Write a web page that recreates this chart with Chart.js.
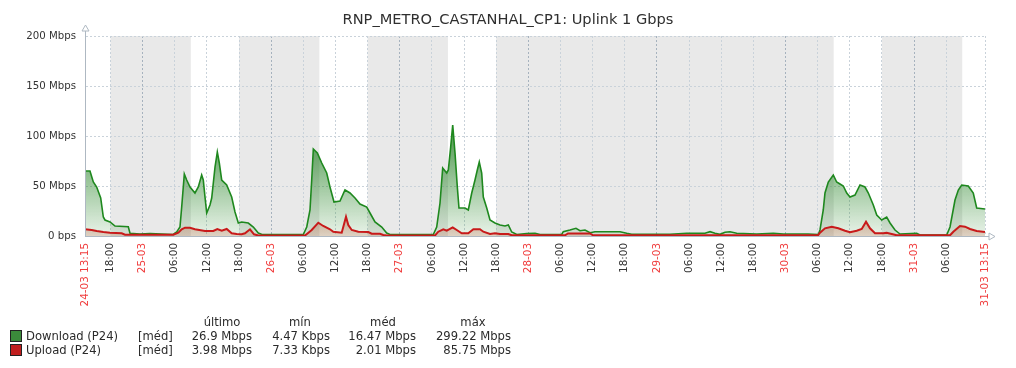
<!DOCTYPE html>
<html>
<head>
<meta charset="utf-8">
<script src="https://cdn.jsdelivr.net/npm/chart.js@4"></script>
<style>
  body { margin: 0; background: #fff; font-family: "DejaVu Sans", sans-serif; color: #2b2b2b; }
  #wrap { position: relative; width: 1016px; height: 368px; }
  #title { position: absolute; left: 0; width: 1016px; top: 10px; text-align: center; font-size: 14.6px; color: #2f2f2f; }
  .lg { position: absolute; font-size: 11.6px; white-space: nowrap; line-height: 14px; }
  .sq { position: absolute; width: 10px; height: 10px; border: 1px solid #222; }
  .r { text-align: right; }
  .c { text-align: center; }
</style>
</head>
<body>
<div id="wrap">
  <canvas id="chart" width="1016" height="368"></canvas>
  <div id="title">RNP_METRO_CASTANHAL_CP1: Uplink 1 Gbps</div>
  <div id="legend"></div>
</div>
<script>
// hours since 24-03 13:15, values in Mbps
const downloadHours = [0, 0.93, 1.55, 2.18, 2.93, 3.42, 3.73, 4.67, 5.6, 8.08, 8.4, 10.27, 12.13, 16.48, 17.12, 17.73,
  18.05, 18.54, 18.98, 19.6, 20.53, 21.15, 21.78, 22.08, 22.4, 22.72, 23.33, 23.65, 24.27, 24.7, 25.07, 25.52, 26.45,
  27.38, 28.0, 28.62, 29.25, 30.48, 31.42, 32.35, 33.04, 38.27, 40.75, 41.39, 42.0, 42.32, 42.62, 43.37, 44.19, 45.12,
  45.73, 46.48, 47.6, 48.53, 49.47, 50.4, 51.33, 52.59, 53.2, 54.13, 55.39, 56.32, 56.93, 65.02, 65.65, 66.27, 66.77,
  67.52, 67.82, 68.26, 68.64, 69.07, 69.5, 69.81, 70.93, 71.55, 72.19, 72.8, 73.23, 73.6, 74.05, 74.35, 74.99, 75.6,
  76.53, 77.47, 78.4, 79.02, 79.65, 80.59, 82.45, 84.0, 84.93, 88.98, 89.28, 90.53, 91.65, 92.4, 93.33, 94.27, 95.2,
  97.39, 99.87, 101.12, 102.05, 109.2, 112.32, 115.73, 116.67, 117.6, 118.53, 119.47, 120.4, 121.65, 125.39, 128.49,
  130.35, 134.96, 136.89, 137.2, 137.81, 138.13, 138.75, 139.68, 140.31, 140.93, 141.55, 142.19, 142.8, 143.73, 144.67,
  145.6, 146.22, 147.15, 147.79, 148.72, 149.65, 150.27, 151.2, 152.13, 155.25, 155.87, 160.85, 161.47, 162.4, 163.02,
  163.65, 164.88, 165.81, 166.45, 168];
const downloadValues = [65, 65, 54, 49, 38, 19, 16, 14, 10, 9.3, 2.7, 2, 2.5, 1.5, 4, 9,
  29, 62, 56, 49, 43, 49, 61, 56, 39, 23, 31, 38, 69, 84, 73, 56, 51,
  39, 24, 13, 14, 13, 9, 3, 1.5, 1.5, 1.5, 9, 26, 56, 87, 83, 73, 63,
  49, 34, 35, 46, 43, 38, 32, 29, 23, 14, 9, 3, 1.5, 1.5, 9, 33, 68,
  63, 66, 89, 111, 83, 49, 28, 28, 26, 43, 56, 66, 74, 63, 39, 28, 16,
  13, 11, 10, 11, 4, 1.5, 2.5, 2.7, 1.5, 1.5, 4.3, 6, 7.7, 5.3, 6, 3.3, 4.3,
  4.3, 4.3, 2.7, 1.7, 1.7, 2.7, 2.7, 4.3, 2.7, 1.7, 3.7, 4.3, 2.7, 2, 2.7,
  2, 2, 1.5, 6, 26, 43, 54, 61, 54, 52, 50, 43, 39, 41, 51,
  49, 43, 31, 21, 16, 19, 13, 6, 2, 2.7, 1, 1, 9, 36, 46,
  51, 50, 43, 28, 27];

const uploadHours = [0, 1.25, 2.18, 3.42, 4.67, 6.85, 7.47, 16.48, 17.42, 18.05, 18.67, 19.6, 20.53, 22.4, 23.95, 24.7,
  25.52, 26.45, 27.38, 28.32, 29.25, 29.87, 30.8, 31.55, 32.35, 41.07, 42.32, 43.55, 44.48, 45.73, 46.35, 47.92, 48.72,
  49.15, 49.79, 51.02, 52.88, 53.52, 55.07, 55.68, 56.32, 65.33, 65.95, 66.88, 67.52, 68.64, 69.39, 70.32, 71.55, 72.49,
  73.73, 74.35, 75.6, 76.53, 77.47, 79.02, 79.65, 89.6, 90.16, 94.27, 94.83, 136.83, 137.2, 138.13, 139.39, 140.62,
  141.87, 142.8, 144.05, 144.99, 145.79, 146.53, 147.47, 149.02, 149.65, 150.59, 151.52, 161.47, 162.09, 163.33, 164.27,
  165.2, 166.45, 168];
const uploadValues = [6.7, 6, 5, 4, 3.3, 2.7, 1.3, 1.3, 3.3, 6.7, 8.3, 8.3, 6.7, 5, 5, 7,
  5.3, 7, 2.7, 2, 1.7, 2.7, 6.7, 1.7, 0.5, 0.5, 6, 13.3, 10, 6.7, 4.3, 3.3, 19.3,
  11, 6, 4.3, 4, 2.3, 2.3, 1, 0.5, 0.5, 4.3, 6.7, 5.3, 8.7, 6, 2.7, 2.7, 6.7,
  6.7, 4.3, 2, 2.7, 2, 2, 0.7, 0.7, 2.5, 2.5, 0.7, 0.7, 3.3, 7.7, 9.3, 7.7,
  5.3, 3.7, 5.3, 7, 14.3, 7.7, 2.7, 2.7, 3.3, 2, 0.7, 0.7, 4.3, 10, 9.3,
  7, 5, 4];

// non-working periods (hours since start)
const offStart = [4.75, 28.75, 52.75, 76.75, 148.75];
const offEnd = [19.75, 43.75, 67.75, 139.75, 163.75];

const xTickHours = [0, 4.75, 10.75, 16.75, 22.75, 28.75, 34.75, 40.75, 46.75, 52.75, 58.75, 64.75, 70.75, 76.75,
  82.75, 88.75, 94.75, 100.75, 106.75, 112.75, 118.75, 124.75, 130.75, 136.75, 142.75, 148.75, 154.75, 160.75, 168];
const xTickLabels = ['24-03 13:15', '18:00', '25-03', '06:00', '12:00', '18:00', '26-03', '06:00', '12:00', '18:00',
  '27-03', '06:00', '12:00', '18:00', '28-03', '06:00', '12:00', '18:00', '29-03', '06:00', '12:00', '18:00', '30-03',
  '06:00', '12:00', '18:00', '31-03', '06:00', '31-03 13:15'];
const yTicks = [0, 50, 100, 150, 200];
const yTickLabels = ['0 bps', '50 Mbps', '100 Mbps', '150 Mbps', '200 Mbps'];

const legendNames = ['Download (P24)', 'Upload (P24)'];
const legendColors = ['#3b8b3b', '#c01e1e'];
const legendHeads = ['último', 'mín', 'méd', 'máx'];
const legendLast = ['26.9 Mbps', '3.98 Mbps'];
const legendMin = ['4.47 Kbps', '7.33 Kbps'];
const legendAvg = ['16.47 Mbps', '2.01 Mbps'];
const legendMax = ['299.22 Mbps', '85.75 Mbps'];

const FONT = '"DejaVu Sans", sans-serif';
const isDate = s => s.indexOf('-') > 0;

const bandsPlugin = {
    id: 'bands',
    beforeDraw(chart) {
        const { ctx, chartArea, scales } = chart;
        ctx.save();
        ctx.fillStyle = '#e9e9e9';
        offStart.forEach((s, i) => {
            const x1 = scales.x.getPixelForValue(s);
            const x2 = scales.x.getPixelForValue(offEnd[i]);
            ctx.fillRect(x1, chartArea.top, x2 - x1, chartArea.bottom - chartArea.top);
        });
        ctx.restore();
    },
    afterDraw(chart) {
        // axis arrows like the original
        const { ctx, chartArea } = chart;
        const l = Math.round(chartArea.left) + 0.5, b = Math.round(chartArea.bottom) + 0.5, r = chartArea.right;
        ctx.save();
        ctx.strokeStyle = '#aeb8c2';
        ctx.lineWidth = 1;
        ctx.beginPath();
        ctx.moveTo(l, chartArea.top - 5); ctx.lineTo(l, b);
        ctx.lineTo(r + 4, b);
        ctx.stroke();
        ctx.fillStyle = '#fff';
        ctx.beginPath();
        ctx.moveTo(l, chartArea.top - 11); ctx.lineTo(l - 3.5, chartArea.top - 5); ctx.lineTo(l + 3.5, chartArea.top - 5); ctx.closePath();
        ctx.fill(); ctx.stroke();
        ctx.beginPath();
        ctx.moveTo(r + 10, b); ctx.lineTo(r + 4, b - 3.5); ctx.lineTo(r + 4, b + 3.5); ctx.closePath();
        ctx.fill(); ctx.stroke();
        ctx.restore();
    }
};

function greenFill(context) {
    const { chart } = context;
    const { ctx, chartArea, scales } = chart;
    if (!chartArea) return 'rgba(40,130,40,0.3)';
    const g = ctx.createLinearGradient(0, scales.y.getPixelForValue(0), 0, scales.y.getPixelForValue(120));
    g.addColorStop(0, 'rgba(40,135,40,0.1)');
    g.addColorStop(1, 'rgba(35,125,35,0.9)');
    return g;
}

function redFill(context) {
    const { chart } = context;
    const { ctx, chartArea, scales } = chart;
    if (!chartArea) return 'rgba(190,100,70,0.25)';
    const g = ctx.createLinearGradient(0, scales.y.getPixelForValue(0), 0, scales.y.getPixelForValue(25));
    g.addColorStop(0, 'rgba(190,110,80,0.25)');
    g.addColorStop(1, 'rgba(190,90,60,0.5)');
    return g;
}

new Chart(document.getElementById('chart'), {
    type: 'line',
    data: {
        datasets: [
            {
                label: legendNames[0],
                data: downloadHours.map((h, i) => ({ x: h, y: downloadValues[i] })),
                borderColor: '#1e881e',
                borderWidth: 1.6,
                backgroundColor: greenFill,
                fill: 'origin',
                pointRadius: 0,
                tension: 0,
                order: 2
            },
            {
                label: legendNames[1],
                data: uploadHours.map((h, i) => ({ x: h, y: uploadValues[i] })),
                borderColor: '#c81a1a',
                borderWidth: 2,
                backgroundColor: redFill,
                fill: 'origin',
                pointRadius: 0,
                tension: 0,
                order: 1
            }
        ]
    },
    options: {
        responsive: false,
        animation: false,
        devicePixelRatio: 1,
        layout: { padding: { left: 0, top: 36, right: 31, bottom: 0 } },
        plugins: { legend: { display: false }, tooltip: { enabled: false }, title: { display: false } },
        scales: {
            x: {
                type: 'linear',
                min: 0,
                max: 168,
                afterBuildTicks: scale => { scale.ticks = xTickHours.map(v => ({ value: v })); },
                afterFit: scale => { scale.height = 132; },
                ticks: {
                    autoSkip: false,
                    minRotation: 90,
                    maxRotation: 90,
                    padding: 7,
                    font: { family: FONT, size: 10.4 },
                    color: ctx => isDate(xTickLabels[ctx.index] || '') ? '#f03c3c' : '#333',
                    callback: (v, i) => xTickLabels[i]
                },
                grid: {
                    drawTicks: false,
                    lineWidth: 1,
                    color: ctx => {
                        const v = ctx.tick ? ctx.tick.value : 0;
                        return ((v - 10.75) % 24 === 0) ? '#a6b2be' : '#c9d2da';
                    }
                },
                border: { display: true, color: '#aeb8c2', dash: [2, 2] }
            },
            y: {
                min: 0,
                max: 200,
                afterBuildTicks: scale => { scale.ticks = yTicks.map(v => ({ value: v })); },
                afterFit: scale => { scale.width = 85; },
                ticks: {
                    padding: 9,
                    font: { family: FONT, size: 10.2 },
                    color: '#333',
                    callback: (v, i) => yTickLabels[i]
                },
                grid: { drawTicks: false, color: '#c9d2da', lineWidth: 1 },
                border: { display: true, color: '#aeb8c2', dash: [2, 2] }
            }
        }
    },
    plugins: [bandsPlugin]
});

// legend block below the chart
const lg = document.getElementById('legend');
function addText(text, left, top, cls, width) {
    const d = document.createElement('div');
    d.className = 'lg ' + (cls || '');
    d.textContent = text;
    d.style.left = left + 'px';
    d.style.top = top + 'px';
    if (width) d.style.width = width + 'px';
    lg.appendChild(d);
}
const headCenters = [222, 300, 383, 473];
legendHeads.forEach((h, i) => addText(h, headCenters[i] - 40, 315, 'c', 80));
legendNames.forEach((name, i) => {
    const top = 329 + i * 14;
    const sq = document.createElement('div');
    sq.className = 'sq';
    sq.style.left = '10px';
    sq.style.top = (top + 1) + 'px';
    sq.style.background = legendColors[i];
    lg.appendChild(sq);
    addText(name, 26, top);
    addText('[méd]', 138, top);
    addText(legendLast[i], 152, top, 'r', 100);
    addText(legendMin[i], 230, top, 'r', 100);
    addText(legendAvg[i], 316, top, 'r', 100);
    addText(legendMax[i], 411, top, 'r', 100);
});
</script>
</body>
</html>
